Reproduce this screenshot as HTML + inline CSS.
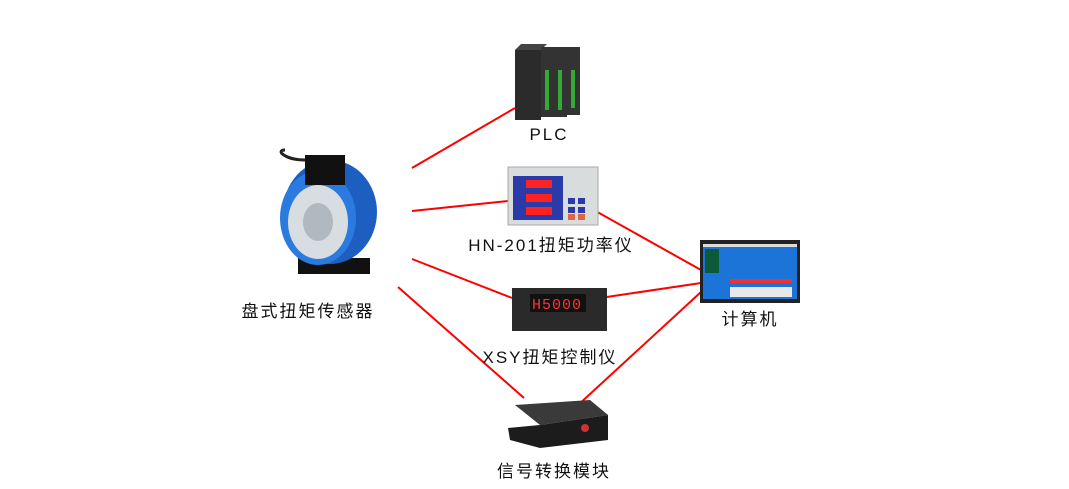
<!DOCTYPE html>
<html><head><meta charset="utf-8"><style>
body{margin:0;width:1069px;height:489px;background:#fff;position:relative;overflow:hidden;font-family:"Liberation Sans","Noto Sans CJK SC",sans-serif;}
.t{position:absolute;font-size:17px;color:#111;letter-spacing:2px;white-space:nowrap;transform:translateX(-50%);}
</style></head><body>
<svg width="1069" height="489" style="position:absolute;left:0;top:0">
<g stroke="#f00" stroke-width="2" fill="none">
<line x1="412" y1="168" x2="515" y2="108"/>
<line x1="412" y1="211" x2="508" y2="201"/>
<line x1="412" y1="259" x2="512" y2="298"/>
<line x1="398" y1="287" x2="524" y2="398"/>
<line x1="592" y1="209" x2="701" y2="270"/>
<line x1="600" y1="298" x2="701" y2="283"/>
<line x1="577" y1="406" x2="701" y2="292"/>
</g>
<g>
<rect x="515" y="50" width="26" height="70" fill="#2b2b2b"/>
<polygon points="515,50 541,50 547,44 521,44" fill="#444"/>
<rect x="541" y="47" width="13" height="70" fill="#333"/>
<rect x="554" y="47" width="13" height="70" fill="#333"/>
<rect x="567" y="47" width="13" height="68" fill="#333"/>
<rect x="545" y="70" width="4" height="40" fill="#3a3"/>
<rect x="558" y="70" width="4" height="40" fill="#3a3"/>
<rect x="571" y="70" width="4" height="38" fill="#3a3"/>
</g>
<rect x="508" y="167" width="90" height="58" fill="#d8dcdc" stroke="#aaa"/>
<rect x="513" y="176" width="50" height="44" fill="#2a3aa8"/>
<g fill="#f22"><rect x="526" y="180" width="26" height="8"/><rect x="526" y="194" width="26" height="8"/><rect x="526" y="207" width="26" height="8"/></g>
<g fill="#2a3aa8"><rect x="568" y="198" width="7" height="6"/><rect x="578" y="198" width="7" height="6"/><rect x="568" y="207" width="7" height="6"/><rect x="578" y="207" width="7" height="6"/></g>
<g fill="#d64"><rect x="568" y="214" width="7" height="6"/><rect x="578" y="214" width="7" height="6"/></g>
<rect x="512" y="288" width="95" height="43" fill="#2a2a2a"/>
<rect x="530" y="294" width="56" height="18" fill="#111"/>
<text x="532" y="309" fill="#f33" font-size="15" font-family="Liberation Mono" letter-spacing="1">H5000</text>
<polygon points="515,405 590,400 608,415 540,425" fill="#3a3a3a"/>
<polygon points="508,428 540,425 608,415 608,440 540,448 510,440" fill="#1c1c1c"/>
<circle cx="585" cy="428" r="4" fill="#c33"/>
<rect x="700" y="240" width="100" height="63" fill="#222"/>
<rect x="703" y="244" width="94" height="55" fill="#1d74d8"/>
<rect x="703" y="244" width="94" height="3" fill="#ddd"/>
<rect x="705" y="249" width="14" height="24" fill="#0b5a3a"/>
<rect x="730" y="287" width="62" height="10" fill="#e8e8e8"/>
<rect x="730" y="279" width="62" height="4" fill="#e33"/>
<rect x="298" y="258" width="72" height="16" fill="#111"/>
<ellipse cx="330" cy="212" rx="47" ry="52" fill="#1d5fc0"/>
<ellipse cx="318" cy="218" rx="38" ry="47" fill="#2a7ae0"/>
<ellipse cx="318" cy="222" rx="30" ry="37" fill="#d8dde2"/>
<ellipse cx="318" cy="222" rx="15" ry="19" fill="#b0b8c0"/>
<rect x="305" y="155" width="40" height="30" fill="#111"/>
<path d="M305,160 C285,160 275,150 285,150" stroke="#222" stroke-width="3" fill="none"/>
</svg>
<div class="t" style="left:549px;top:125px">PLC</div>
<div class="t" style="left:551px;top:231px">HN-201扭矩功率仪</div>
<div class="t" style="left:550px;top:343px">XSY扭矩控制仪</div>
<div class="t" style="left:554px;top:457px">信号转换模块</div>
<div class="t" style="left:750px;top:305px">计算机</div>
<div class="t" style="left:308px;top:297px">盘式扭矩传感器</div>
</body></html>
